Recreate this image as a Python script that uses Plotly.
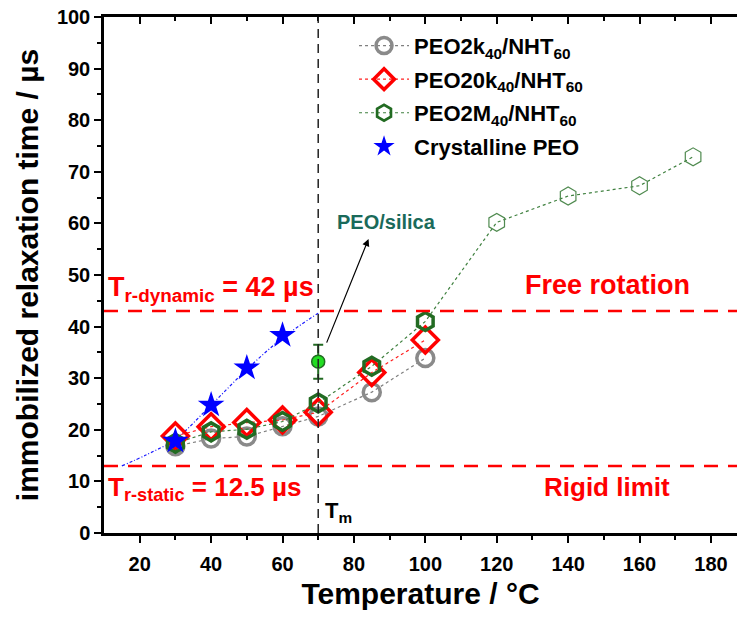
import plotly.graph_objects as go

# Temperatures (°C) and immobilized relaxation times (µs)
temp_main = [30, 40, 50, 60, 70, 85, 100]
peo2k = [16.8, 18.3, 18.7, 20.7, 22.6, 27.3, 33.9]
peo20k = [18.8, 20.6, 21.4, 21.9, 23.4, 31.1, 37.4]

temp_2m = [30, 40, 50, 60, 70, 85, 100, 120, 140, 160, 175]
peo2m = [17.4, 19.6, 20.1, 21.6, 25.2, 32.3, 41.0, 60.2, 65.3, 67.3, 72.9]

temp_cryst = [30, 40, 50, 60]
cryst = [17.8, 24.8, 32.0, 38.3]

# guide curve through the crystalline PEO points
fit_temp = [15, 22, 30, 40, 50, 60, 70]
fit_tau = [13.0, 15.2, 18.2, 24.8, 31.7, 37.8, 42.6]

silica_temp = [70]
silica_tau = [33.2]
silica_err = [3.3]

tau_dynamic = 43.0
tau_static = 13.0
t_melt = 70

FONT = "Arial, Liberation Sans, sans-serif"
GREEN = "#226b22"

fig = go.Figure()

fig.add_trace(go.Scatter(
    x=fit_temp, y=fit_tau, mode="lines", line_shape="spline",
    line=dict(color="#1a1aff", width=1.2, dash="3px,2px,1px,2px"),
    showlegend=False, hoverinfo="skip"))

fig.add_trace(go.Scatter(
    x=temp_main, y=peo2k, mode="lines+markers", name="PEO2k<sub>40</sub>/NHT<sub>60</sub>",
    line=dict(color="#7f7f7f", width=1.2, dash="dot"),
    marker=dict(symbol="circle-open", size=17, color="#8a8a8a", line=dict(width=3.5)),
    legendgroup="a"))

fig.add_trace(go.Scatter(
    x=temp_main, y=peo20k, mode="lines+markers", name="PEO20k<sub>40</sub>/NHT<sub>60</sub>",
    line=dict(color="#ff2020", width=1.2, dash="dot"),
    marker=dict(symbol="diamond-open", size=20, color="#ff0000", line=dict(width=3.5)),
    legendgroup="b"))

mlw = [3.5 if t <= 100 else 1.2 for t in temp_2m]
mcol = [GREEN if t <= 100 else "#4f8a4f" for t in temp_2m]
fig.add_trace(go.Scatter(
    x=temp_2m, y=peo2m, mode="lines+markers", name="PEO2M<sub>40</sub>/NHT<sub>60</sub>",
    line=dict(color="#3f803f", width=1.2, dash="dot"),
    marker=dict(symbol="hexagon-open", size=18, color=mcol, line=dict(width=mlw)),
    legendgroup="c"))

fig.add_trace(go.Scatter(
    x=temp_cryst, y=cryst, mode="markers", name="Crystalline PEO",
    marker=dict(symbol="star", size=20, color="#0000ff", line=dict(width=0)),
    legendgroup="d"))

fig.add_trace(go.Scatter(
    x=silica_temp, y=silica_tau, mode="markers", showlegend=False,
    error_y=dict(type="data", array=silica_err, color=GREEN, thickness=2, width=5),
    marker=dict(symbol="circle", size=13, color="#22dd22", line=dict(color=GREEN, width=1.5))))

# top axis carrying inward ticks
fig.add_trace(go.Scatter(x=[None], y=[None], xaxis="x2", showlegend=False))

shapes = [
    dict(type="line", xref="paper", yref="y", x0=0, x1=1, y0=tau_dynamic, y1=tau_dynamic,
         line=dict(color="#ff0000", width=2.5, dash="14px,10px")),
    dict(type="line", xref="paper", yref="y", x0=0, x1=1, y0=tau_static, y1=tau_static,
         line=dict(color="#ff0000", width=2.5, dash="14px,10px")),
    dict(type="line", xref="x", yref="paper", x0=t_melt, x1=t_melt, y0=0, y1=1,
         line=dict(color="#222222", width=1.5, dash="9px,6px")),
]

red_font = dict(family=FONT, size=26, color="#ff0000")
annotations = [
    dict(x=10.6, y=47.3, xref="x", yref="y", xanchor="left", yanchor="middle", showarrow=False,
         text="<b>T<sub>r-dynamic</sub> = 42 µs</b>", font=dict(family=FONT, size=27, color="#ff0000")),
    dict(x=151, y=48.1, xref="x", yref="y", xanchor="center", yanchor="middle", showarrow=False,
         text="<b>Free rotation</b>", font=dict(family=FONT, size=27, color="#ff0000")),
    dict(x=10.6, y=8.6, xref="x", yref="y", xanchor="left", yanchor="middle", showarrow=False,
         text="<b>T<sub>r-static</sub> = 12.5 µs</b>", font=red_font),
    dict(x=151, y=8.9, xref="x", yref="y", xanchor="center", yanchor="middle", showarrow=False,
         text="<b>Rigid limit</b>", font=red_font),
    dict(x=71.2, y=4.0, xref="x", yref="y", xanchor="left", yanchor="middle", showarrow=False,
         text="<b>T<sub>m</sub></b>", font=dict(family=FONT, size=22, color="#000000")),
    dict(x=89, y=60.3, xref="x", yref="y", xanchor="center", yanchor="middle", showarrow=False,
         text="<b>PEO/silica</b>", font=dict(family=FONT, size=20, color="#1a6a5a")),
    dict(x=84.1, y=57.0, ax=72.2, ay=36.6, xref="x", yref="y", axref="x", ayref="y",
         text="", showarrow=True, arrowhead=2, arrowsize=1.2, arrowwidth=1.2, arrowcolor="#000000"),
]

axis_common = dict(
    showline=True, linecolor="#000000", linewidth=2.5, showgrid=False, zeroline=False,
    ticks="outside", ticklen=7, tickwidth=2, tickcolor="#000000",
    tickfont=dict(family=FONT, size=20, color="#000000", weight="bold"),
)

fig.update_layout(
    width=737, height=619,
    margin=dict(l=104, r=0, t=17, b=86),
    plot_bgcolor="white", paper_bgcolor="white",
    shapes=shapes, annotations=annotations,
    xaxis=dict(
        range=[10, 187.3], tickvals=[20, 40, 60, 80, 100, 120, 140, 160, 180],
        minor=dict(tickvals=[30, 50, 70, 90, 110, 130, 150, 170], ticks="outside", ticklen=4, tickwidth=2, tickcolor="#000000"),
        ticklabelstandoff=4,
        title=dict(text="<b>Temperature / °C</b>", font=dict(family=FONT, size=30, color="#000000"), standoff=10),
        automargin=False, **axis_common),
    xaxis2=dict(
        overlaying="x", side="top", matches="x", range=[10, 187.3],
        showline=True, linecolor="#000000", linewidth=2.5, showgrid=False, zeroline=False,
        tickvals=[20, 40, 60, 80, 100, 120, 140, 160, 180], ticks="inside", ticklen=7, tickwidth=2,
        tickcolor="#000000", showticklabels=False,
        minor=dict(tickvals=[30, 50, 70, 90, 110, 130, 150, 170], ticks="inside", ticklen=4, tickwidth=2, tickcolor="#000000"),
        automargin=False),
    yaxis=dict(
        range=[0, 100], tickvals=list(range(0, 101, 10)),
        minor=dict(dtick=5, ticks="outside", ticklen=4, tickwidth=2, tickcolor="#000000"),
        title=dict(text="<b>immobilized relaxation time / µs</b>", font=dict(family=FONT, size=30, color="#000000"), standoff=10),
        automargin=False, **axis_common),
    legend=dict(
        x=0.395, y=0.985, xanchor="left", yanchor="top",
        bgcolor="rgba(0,0,0,0)", borderwidth=0, itemwidth=50, tracegroupgap=2,
        font=dict(family=FONT, size=22, color="#000000", weight="bold"),
    ),
    showlegend=True,
)

fig.write_html("out.html")
